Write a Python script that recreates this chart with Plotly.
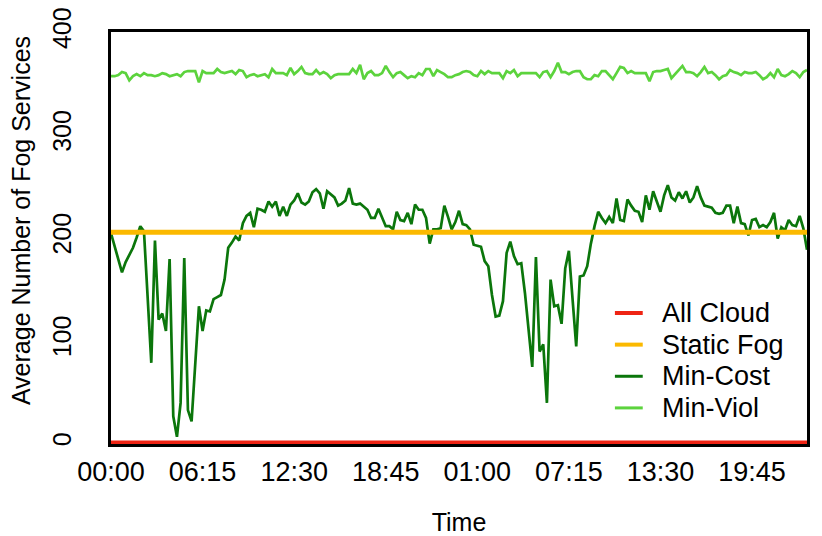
import pandas as pd
import plotly.graph_objects as go

# 15-minute samples over two days
times = pd.date_range("2000-01-01 00:00", periods=191, freq="15min")

min_cost = [
    204, 192, 178, 166, 176, 183, 190, 200, 211, 206,
    142, 78, 197, 120, 126, 109, 179, 26, 6, 39,
    180, 32, 21, 77, 133, 109, 129, 128, 140, 142,
    144, 159, 190, 195, 201, 197, 214, 221, 224, 210,
    228, 227, 225, 235, 230, 235, 221, 230, 221, 232,
    236, 243, 234, 232, 235, 244, 247, 243, 228, 245,
    242, 239, 231, 233, 236, 248, 233, 232, 233, 230,
    227, 219, 219, 228, 220, 211, 211, 208, 225, 217,
    216, 224, 213, 232, 227, 227, 219, 194, 208, 208,
    209, 231, 220, 208, 215, 226, 213, 212, 208, 193,
    192, 191, 177, 172, 144, 123, 124, 138, 185, 196,
    182, 174, 175, 146, 110, 74, 181, 89, 96, 39,
    159, 133, 134, 116, 170, 187, 140, 94, 162, 163,
    172, 194, 211, 225, 219, 214, 220, 214, 238, 217,
    216, 237, 231, 226, 225, 215, 241, 227, 245, 235,
    225, 241, 251, 239, 236, 244, 238, 245, 234, 239,
    250, 239, 231, 230, 229, 224, 223, 224, 231, 231,
    214, 230, 214, 213, 202, 217, 218, 210, 212, 210,
    215, 224, 199, 210, 207, 217, 212, 211, 221, 209,
    188,
]

min_viol = [
    357, 357, 358, 361, 360, 353, 357, 359, 357, 360,
    358, 358, 357, 358, 360, 359, 357, 358, 359, 357,
    361, 362, 362, 362, 351, 362, 360, 360, 360, 364,
    361, 360, 361, 362, 359, 363, 362, 356, 358, 359,
    357, 358, 359, 356, 364, 360, 360, 360, 358, 365,
    359, 362, 366, 360, 359, 359, 363, 359, 361, 359,
    355, 358, 359, 359, 359, 359, 364, 360, 368, 354,
    360, 362, 358, 358, 360, 367, 361, 356, 360, 361,
    358, 355, 357, 356, 360, 358, 364, 364, 357, 363,
    361, 359, 356, 356, 358, 359, 361, 362, 361, 358,
    357, 362, 359, 362, 360, 360, 360, 355, 362, 360,
    363, 357, 360, 360, 360, 360, 360, 356, 361, 362,
    356, 362, 370, 361, 361, 359, 361, 362, 362, 356,
    354, 354, 358, 357, 362, 362, 358, 354, 360, 366,
    365, 360, 362, 360, 360, 360, 360, 352, 361, 362,
    362, 363, 364, 355, 359, 362, 367, 361, 361, 360,
    357, 361, 366, 360, 361, 358, 354, 357, 358, 363,
    361, 360, 358, 361, 360, 360, 361, 358, 354, 356,
    360, 356, 364, 358, 357, 359, 362, 360, 356, 361,
    363,
]

static_fog_level = 205
all_cloud_level = 0
static_fog = [static_fog_level] * len(times)
all_cloud = [all_cloud_level] * len(times)

series_names = ["All Cloud", "Static Fog", "Min-Cost", "Min-Viol"]
series_colors = ["#ee2414", "#fbb900", "#0b760b", "#5cd33d"]

font = "Liberation Sans, Arial, Helvetica, sans-serif"

fig = go.Figure()
# drawing order: light green, dark green, yellow, red on top
fig.add_trace(go.Scatter(x=times, y=min_viol, mode="lines", name="Min-Viol",
                         line=dict(color=series_colors[3], width=2.7)))
fig.add_trace(go.Scatter(x=times, y=min_cost, mode="lines", name="Min-Cost",
                         line=dict(color=series_colors[2], width=2.7)))
fig.add_trace(go.Scatter(x=times, y=static_fog, mode="lines", name="Static Fog",
                         line=dict(color=series_colors[1], width=5)))
fig.add_trace(go.Scatter(x=times, y=all_cloud, mode="lines", name="All Cloud",
                         line=dict(color=series_colors[0], width=5)))

# legend drawn by hand so the row spacing matches the original
legend_top = 0.318
legend_step = 0.0768
key_widths = [4, 4, 3, 3]
for k, (name, color) in enumerate(zip(series_names, series_colors)):
    yk = legend_top - k * legend_step
    fig.add_shape(type="line", xref="paper", yref="paper",
                  x0=0.724, x1=0.764, y0=yk, y1=yk,
                  line=dict(color=color, width=key_widths[k]))
    fig.add_annotation(x=0.789, y=yk, xref="paper", yref="paper",
                       text=name, showarrow=False, xanchor="left", yanchor="middle",
                       font=dict(size=27))

fig.add_annotation(x=-0.1293, y=0.541, xref="paper", yref="paper",
                   text="Average Number of Fog Services", textangle=-90,
                   showarrow=False, xanchor="center", yanchor="middle",
                   font=dict(size=25))

# page body has an 8px margin, so the figure starts 8px in from the window corner
fig.update_layout(
    width=814, height=528, autosize=False,
    plot_bgcolor="white", paper_bgcolor="white",
    margin=dict(l=103, r=15, t=24, b=92, autoexpand=False),
    font=dict(family=font, size=25, color="black"),
    showlegend=False,
)
fig.update_xaxes(
    range=[times[0], times[-1]],
    tickformat="%H:%M", tick0=times[0], dtick=6.25 * 3600 * 1000,
    showgrid=False, zeroline=False, ticks="", automargin=False,
    tickfont=dict(size=27),
    showline=True, mirror=True, linecolor="black", linewidth=2.5, layer="below traces",
    ticklabelstandoff=2,
    title=dict(text="Time", standoff=40, font=dict(size=25)),
)
fig.update_yaxes(
    range=[-1, 400], tickvals=[0, 100, 200, 300, 400], tickangle=-90,
    ticklabeloverflow="allow",
    showgrid=False, zeroline=False, ticks="", automargin=False,
    tickfont=dict(size=25),
    showline=True, mirror=True, linecolor="black", linewidth=2.5, layer="below traces",
    ticklabelstandoff=27,
)

fig.write_html("out.html")
